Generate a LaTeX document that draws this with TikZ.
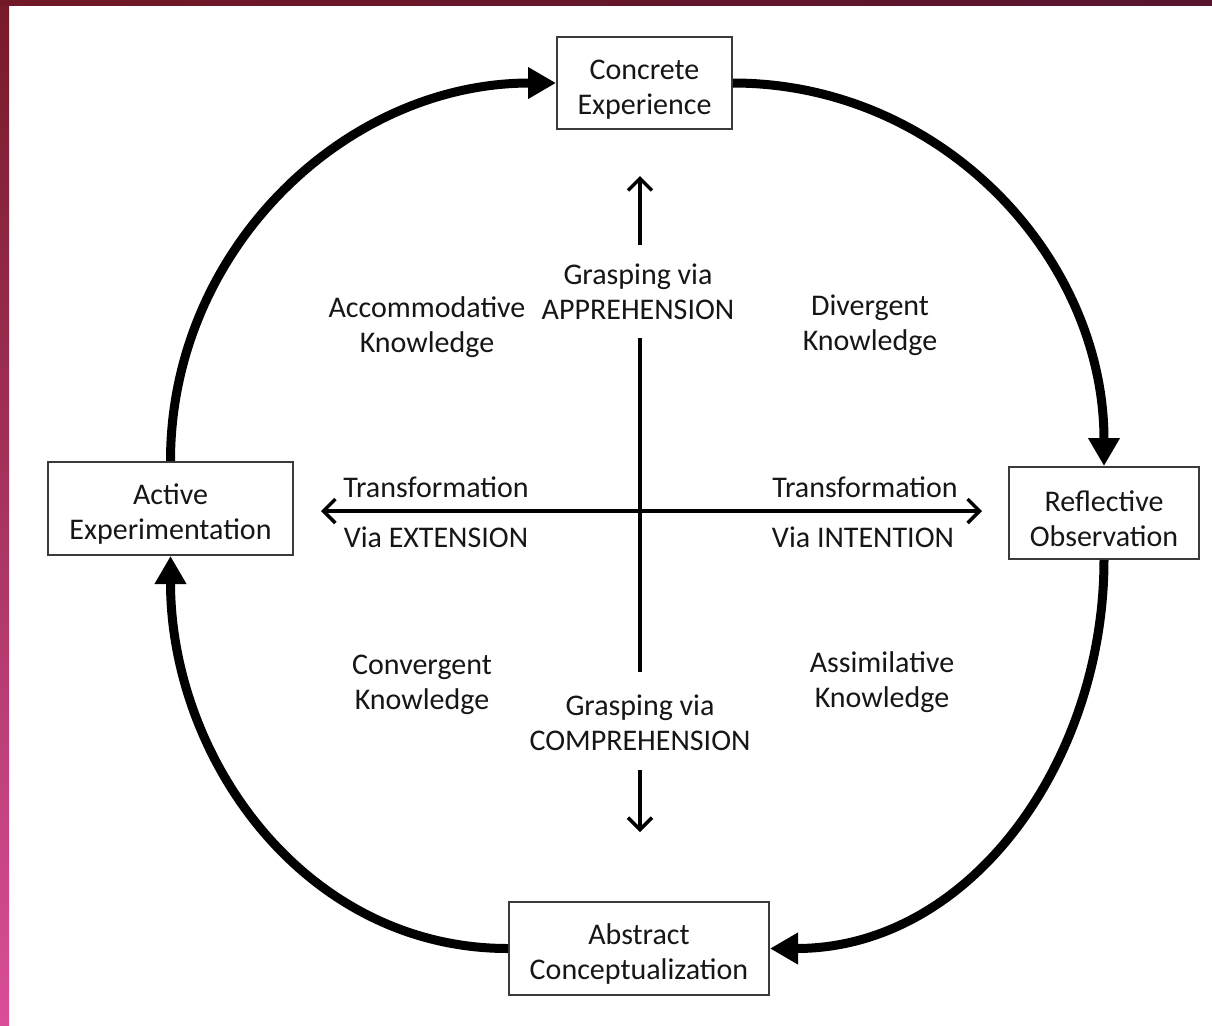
\documentclass[tikz,border=0pt]{standalone}
\usepackage{fontspec}
\setmainfont{Carlito}
\usetikzlibrary{arrows.meta}
\definecolor{txt}{HTML}{161616}
\definecolor{boxline}{HTML}{3A3A3A}
\definecolor{stripA}{HTML}{761A28}
\definecolor{stripB}{HTML}{B02E3C}
\definecolor{stripC}{HTML}{D94E98}
\definecolor{topA}{HTML}{721826}
\definecolor{topB}{HTML}{581530}
\newcommand{\lift}{\rule{0pt}{16pt}}
\tikzset{
  stagebox/.style={draw=boxline, line width=1pt, fill=white, align=center, inner sep=0pt,
    font=\fontsize{15}{17.5}\selectfont, text=txt},
  lbl/.style={align=center, inner sep=0pt, font=\fontsize{15}{17.5}\selectfont, text=txt},
  cycle/.style={line width=4.5pt, -{Triangle[length=14pt,width=15pt]}},
  axis/.style={line width=1.7pt, -{Straight Barb[length=6pt,width=12pt,line width=1.7pt]}},
  axisboth/.style={line width=1.7pt, {Straight Barb[length=6pt,width=12pt,line width=1.7pt]}-{Straight Barb[length=6pt,width=12pt,line width=1.7pt]}}
}
\begin{document}
\begin{tikzpicture}[x=0.5pt,y=-0.5pt]
\useasboundingbox (0,0) rectangle (1212,1025);
\fill[white] (0,0) rectangle (1212,1025);
\shade[top color=stripA, middle color=stripB, bottom color=stripC] (0,0) rectangle (9,1025);
\shade[left color=topA, right color=topB] (0,0) rectangle (1212,5);

% stage boxes
\node[stagebox, minimum width=87.5pt, minimum height=46pt] (CE) at (644.5,83) {\lift Concrete\\Experience};
\node[stagebox, minimum width=95pt, minimum height=46pt] (RO) at (1104,513) {\lift Reflective\\Observation};
\node[stagebox, minimum width=130pt, minimum height=46.5pt] (AC) at (639,948.5) {\lift Abstract\\Conceptualization};
\node[stagebox, minimum width=122.5pt, minimum height=46.5pt] (AE) at (170.5,508.5) {\lift Active\\Experimentation};

% cycle arcs
\draw[cycle] (AE.north) to[out=90,in=180] (CE.west);
\draw[cycle] (CE.east) to[out=0,in=90] (RO.north);
\draw[cycle] (RO.south) to[out=-90,in=0] (AC.east);
\draw[cycle] (AC.west) to[out=180,in=-90] (AE.south);

% labels
\node[lbl] (gapp) at (638,292) {Grasping via\\APPREHENSION};
\node[lbl] (gcomp) at (640,723) {Grasping via\\COMPREHENSION};
\node[lbl] (accom) at (427,327) {Accommodative\\Knowledge};
\node[lbl] (diverg) at (870,325) {Divergent\\Knowledge};
\node[lbl] (converg) at (422,685) {Convergent\\Knowledge};
\node[lbl] (assim) at (882,682) {Assimilative\\Knowledge};
\node[lbl] (textT) at (436,487) {Transformation};
\node[lbl] (textV) at (436,537) {Via EXTENSION};
\node[lbl] (intT) at (865,487) {Transformation};
\node[lbl] (intV) at (863,537) {Via INTENTION};

% axes
\coordinate (vt) at (640,176);
\coordinate (v1) at (640,245);
\coordinate (v2) at (640,338);
\coordinate (v3) at (640,672);
\coordinate (v4) at (640,770);
\coordinate (vb) at (640,832);
\coordinate (hl) at (321,511);
\coordinate (hr) at (982,511);
\draw[axis] (v1) -- (vt);
\draw[line width=1.7pt] (v2) -- (v3);
\draw[axis] (v4) -- (vb);
\draw[axisboth] (hl) -- (hr);
\end{tikzpicture}
\end{document}
